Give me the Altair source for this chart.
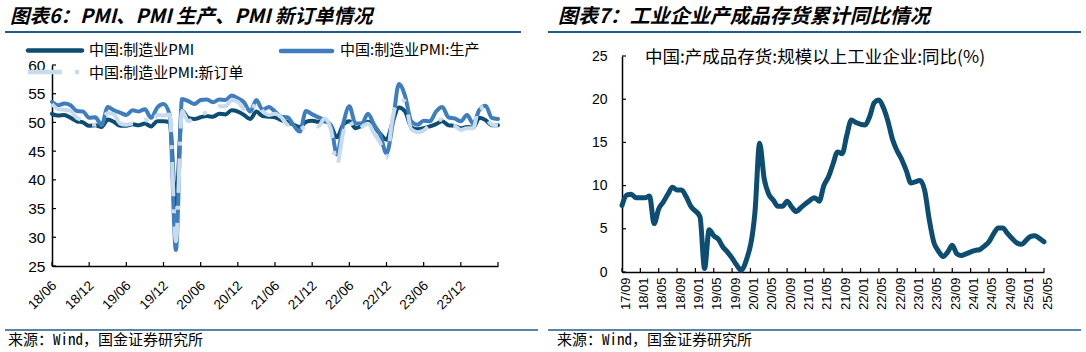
import json
import altair as alt
import pandas as pd

# ---------------- Left panel data: monthly, 2018/06 .. 2024/06 ----------------
pmi = [51.5, 51.2, 51.3, 50.8, 50.2, 50.0, 49.4,
       49.5, 49.2, 50.5, 50.1, 49.4, 49.4, 49.7, 49.5, 49.8, 49.3, 50.2, 50.2,
       50.0, 35.7, 52.0, 50.8, 50.6, 50.9, 51.1, 51.0, 51.5, 51.4, 52.1, 51.9,
       51.3, 50.6, 51.9, 51.1, 51.0, 50.9, 50.4, 50.1, 49.6, 49.2, 50.1, 50.3,
       50.1, 50.2, 49.5, 47.4, 49.6, 50.2, 49.0, 49.4, 50.1, 49.2, 48.0, 47.0,
       50.1, 52.6, 51.9, 49.2, 48.8, 49.0, 49.3, 49.7, 50.2, 49.5, 49.4, 49.0,
       49.2, 49.1, 50.8, 50.4, 49.5, 49.5]
pmi_prod = [53.6, 53.0, 53.3, 53.0, 52.0, 51.9, 50.8,
            50.9, 49.5, 52.7, 52.1, 51.7, 51.3, 52.1, 51.9, 52.3, 50.8, 52.6, 53.2,
            51.3, 27.8, 54.1, 53.7, 53.2, 53.9, 54.0, 53.5, 54.0, 53.9, 54.7, 54.2,
            53.5, 51.9, 53.9, 52.2, 52.7, 51.9, 51.0, 50.9, 49.5, 48.4, 52.0, 51.4,
            50.9, 50.4, 49.5, 44.4, 49.7, 52.8, 49.8, 49.8, 51.5, 49.6, 47.8, 44.6,
            49.8, 56.7, 54.6, 50.2, 49.6, 50.3, 50.2, 51.9, 52.7, 50.9, 50.7, 50.2,
            51.3, 49.8, 52.2, 52.9, 50.8, 50.6]
pmi_new = [53.2, 52.3, 52.2, 52.0, 50.8, 50.4, 49.7,
           49.6, 50.6, 51.6, 51.4, 49.8, 49.6, 49.8, 49.7, 50.5, 49.6, 51.3, 51.2,
           51.4, 29.3, 52.0, 50.2, 50.9, 51.4, 51.7, 52.0, 52.8, 52.8, 53.9, 53.6,
           52.3, 51.5, 53.6, 52.0, 51.3, 51.5, 50.9, 49.6, 49.3, 48.8, 49.4, 49.7,
           49.3, 50.7, 48.8, 42.6, 48.2, 50.4, 48.5, 49.2, 49.8, 48.1, 46.4, 43.9,
           50.9, 54.1, 53.6, 48.8, 48.3, 48.6, 49.5, 50.2, 50.5, 49.5, 49.4, 48.7,
           49.0, 49.0, 53.0, 51.1, 49.6, 49.5]
left_series = ["中国:制造业PMI", "中国:制造业PMI:生产", "中国:制造业PMI:新订单"]
left_tick_labels = ["18/06", "18/12", "19/06", "19/12", "20/06", "20/12",
                    "21/06", "21/12", "22/06", "22/12", "23/06", "23/12"]
left_y_ticks = [25, 30, 35, 40, 45, 50, 55, 60]

# ---------------- Right panel data: 2017/09 .. 2025/05 (no January releases) ----------------
inv_values = [7.7, 8.9, 9.0, 8.6,
              8.6, 8.8, 5.6, 7.3, 8.1, 9.0, 9.8, 9.5, 9.5, 8.7, 7.6,
              6.4, 0.4, 4.9, 4.2, 3.8, 2.9, 2.3, 1.6, 0.8, 0.2, 1.2,
              7.0, 14.9, 10.8, 9.0, 8.3, 7.6, 7.6, 8.2, 7.5, 7.0, 7.45,
              8.3, 8.6, 8.2, 10.0, 11.0, 12.5, 13.9, 13.7, 15.8, 17.6, 17.3,
              17.0, 18.0, 19.6, 19.9, 19.0, 17.4, 15.3, 14.0, 13.0, 11.7, 10.3,
              10.6, 9.4, 6.0, 3.4, 2.4, 1.8, 2.3, 3.1, 2.1, 1.9, 2.1,
              2.5, 2.6, 3.0, 3.5, 4.4, 5.1, 5.1, 4.5, 3.9, 3.4, 3.2,
              4.1, 4.2, 3.9, 3.5]
right_series = "中国:产成品存货:规模以上工业企业:同比(%)"
right_tick_labels = ["17/09", "18/01", "18/05", "18/09", "19/01", "19/05", "19/09",
                     "20/01", "20/05", "20/09", "21/01", "21/05", "21/09", "22/01",
                     "22/05", "22/09", "23/01", "23/05", "23/09", "24/01", "24/05",
                     "24/09", "25/01", "25/05"]
right_y_ticks = [0, 5, 10, 15, 20, 25]

# month indexes (right: months since 2017/09, skipping January)
inv_t = []
y, m = 2017, 9
while (y, m) <= (2025, 5):
    if m != 1:
        inv_t.append((y - 2017) * 12 + (m - 9))
    m += 1
    if m > 12:
        m, y = 1, y + 1

# ---------------- style ----------------
C_DARK = "#0C4D71"
C_MID = "#3F7EBE"
C_LIGHT = "#C7DBEF"
C_RULE = "#1F5C88"
NUM_FONT = "Liberation Sans"
CJK = "Noto Sans CJK SC"
MONO = "Noto Sans Mono CJK SC, Noto Sans CJK SC"

one = pd.DataFrame({"a": [0]})


def txt(x, y, s, size, **kw):
    return alt.Chart(one).mark_text(align="left", baseline="middle", fontSize=size,
                                    color="black", **kw).encode(
        x=alt.value(x), y=alt.value(y), text=alt.value(s))


def hrule(x1, x2, y, color, w, **kw):
    return alt.Chart(one).mark_rule(color=color, strokeWidth=w, **kw).encode(
        x=alt.value(x1), x2=alt.value(x2), y=alt.value(y))


def frame(x1, x2, y1, y2):
    return alt.Chart(one).mark_rect(opacity=0).encode(
        x=alt.value(x1), x2=alt.value(x2), y=alt.value(y1), y2=alt.value(y2))


# both views start at the same page y so that the concat rows line up
Y0 = 55.5

# ================= LEFT PANEL =================
LX0, LW, LH = 52, 446, 210          # view: y 55.5 .. 265.5 ; value 60 at 64.5
LTOP = 9

ldf = pd.DataFrame({
    "t": list(range(len(pmi))) * 3,
    "v": pmi + pmi_prod + pmi_new,
    "s": [left_series[0]] * len(pmi) + [left_series[1]] * len(pmi_prod) + [left_series[2]] * len(pmi_new),
})

lx = alt.X("t:Q", scale=alt.Scale(domain=[0, 72], nice=False, zero=False),
           axis=alt.Axis(values=list(range(0, 67, 6)),
                         labelExpr=json.dumps(left_tick_labels) + "[round(datum.value/6)]",
                         labelAngle=-45, labelAlign="right", labelBaseline="middle",
                         labelPadding=17, labelOffset=2, ticks=False, tickSize=0, grid=False,
                         domainColor="black", domainWidth=1.5, labelFont=NUM_FONT,
                         labelFontSize=13.5, labelColor="black", labelFlush=False,
                         labelOverlap=False, title=None))
ly = alt.Y("v:Q", scale=alt.Scale(domain=[25, 60], range=[LH, LTOP], nice=False, zero=False),
           axis=alt.Axis(values=left_y_ticks, ticks=False, tickSize=0, grid=False,
                         domainColor="black", domainWidth=1.5, labelFont=NUM_FONT,
                         labelFontSize=15.5, labelColor="black", labelPadding=7,
                         labelFlush=False, labelOverlap=False, title=None))


def lline(name, color, dash=None):
    kw = dict(color=color, strokeWidth=4, interpolate="monotone", strokeJoin="round")
    if dash:
        kw["strokeDash"] = dash
    else:
        kw["strokeCap"] = "round"
    return alt.Chart(ldf).transform_filter(alt.datum.s == name).mark_line(**kw).encode(x=lx, y=ly)


l_yt = alt.Chart(pd.DataFrame({"v": left_y_ticks})).mark_rule(color="black", strokeWidth=1.2).encode(
    y=ly, x=alt.value(0), x2=alt.value(4))
l_xt = alt.Chart(pd.DataFrame({"t": list(range(0, 73, 6))})).mark_rule(color="black", strokeWidth=1.2).encode(
    x=lx, y=alt.value(LH), y2=alt.value(LH - 4))

DASH = [34, 13, 4, 13]
left = alt.layer(
    frame(-LX0, 543 - LX0, -Y0, 352 - Y0),
    lline(left_series[0], C_DARK),
    lline(left_series[1], C_MID),
    lline(left_series[2], C_LIGHT, DASH),
    l_yt, l_xt,
    txt(10 - LX0, 16 - Y0, "图表6：PMI、PMI 生产、PMI 新订单情况", 19.5, font=CJK,
        fontWeight="bold", fontStyle="italic"),
    hrule(5 - LX0, 521 - LX0, 31.5 - Y0, C_RULE, 2),
    hrule(28 - LX0, 82 - LX0, 50 - Y0, C_DARK, 4.5, strokeCap="round"),
    txt(89 - LX0, 49.5 - Y0, left_series[0], 15, font=CJK),
    hrule(281 - LX0, 332 - LX0, 50.5 - Y0, C_MID, 4.5, strokeCap="round"),
    txt(340 - LX0, 49.5 - Y0, left_series[1], 15, font=CJK),
    hrule(28 - LX0, 82 - LX0, 71.5 - Y0, C_LIGHT, 4.5, strokeDash=DASH),
    txt(89 - LX0, 72 - Y0, left_series[2], 15, font=CJK),
    hrule(5 - LX0, 538 - LX0, 329.5 - Y0, C_RULE, 1.5),
    txt(8 - LX0, 339.5 - Y0, "来源：Wind，国金证券研究所", 15, font=MONO),
).properties(width=LW, height=LH)

# ================= RIGHT PANEL =================
RX0, RW, RH = 622 - 543, 422, 216

rdf = pd.DataFrame({"t": inv_t, "v": inv_values})
rx = alt.X("t:Q", scale=alt.Scale(domain=[0, 92], nice=False, zero=False),
           axis=alt.Axis(values=list(range(0, 93, 4)),
                         labelExpr=json.dumps(right_tick_labels) + "[round(datum.value/4)]",
                         labelAngle=-90, labelAlign="right", labelBaseline="middle",
                         labelPadding=5, labelOffset=3, ticks=False, tickSize=0, grid=False,
                         domainColor="black", domainWidth=1.5, labelFont=NUM_FONT,
                         labelFontSize=13, labelColor="black", labelFlush=False,
                         labelOverlap=False, title=None))
ry = alt.Y("v:Q", scale=alt.Scale(domain=[0, 25], nice=False, zero=False),
           axis=alt.Axis(values=right_y_ticks, ticks=False, tickSize=0, grid=False,
                         domainColor="black", domainWidth=1.5, labelFont=NUM_FONT,
                         labelFontSize=14, labelColor="black", labelPadding=15,
                         labelFlush=False, labelOverlap=False, title=None))

r_line = alt.Chart(rdf).mark_line(color=C_DARK, strokeWidth=5, interpolate="monotone",
                                  strokeCap="round", strokeJoin="round").encode(x=rx, y=ry)
r_yt = alt.Chart(pd.DataFrame({"v": right_y_ticks})).mark_rule(color="black", strokeWidth=1.2).encode(
    y=ry, x=alt.value(0), x2=alt.value(4))
r_xt = alt.Chart(pd.DataFrame({"t": list(range(0, 93, 4))})).mark_rule(color="black", strokeWidth=1.2).encode(
    x=rx, y=alt.value(RH), y2=alt.value(RH - 4))

right = alt.layer(
    frame(-RX0, 543 - RX0, -Y0, 352 - Y0),
    r_line, r_yt, r_xt,
    txt(558 - 543 - RX0, 16 - Y0, "图表7：工业企业产成品存货累计同比情况", 20, font=CJK,
        fontWeight="bold", fontStyle="italic"),
    hrule(548 - 543 - RX0, 1081 - 543 - RX0, 31.5 - Y0, C_RULE, 2),
    txt(645 - 543 - RX0, 57 - Y0, right_series, 17.5, font=CJK),
    hrule(548 - 543 - RX0, 1081 - 543 - RX0, 329.5 - Y0, C_RULE, 1.5),
    txt(557 - 543 - RX0, 339.5 - Y0, "来源：Wind，国金证券研究所", 15, font=MONO),
).properties(width=RW, height=RH)

chart = alt.hconcat(left, right, spacing=0, padding=0).configure_view(stroke=None)
chart.save("out.html", embed_options={"renderer": "svg", "actions": False})
